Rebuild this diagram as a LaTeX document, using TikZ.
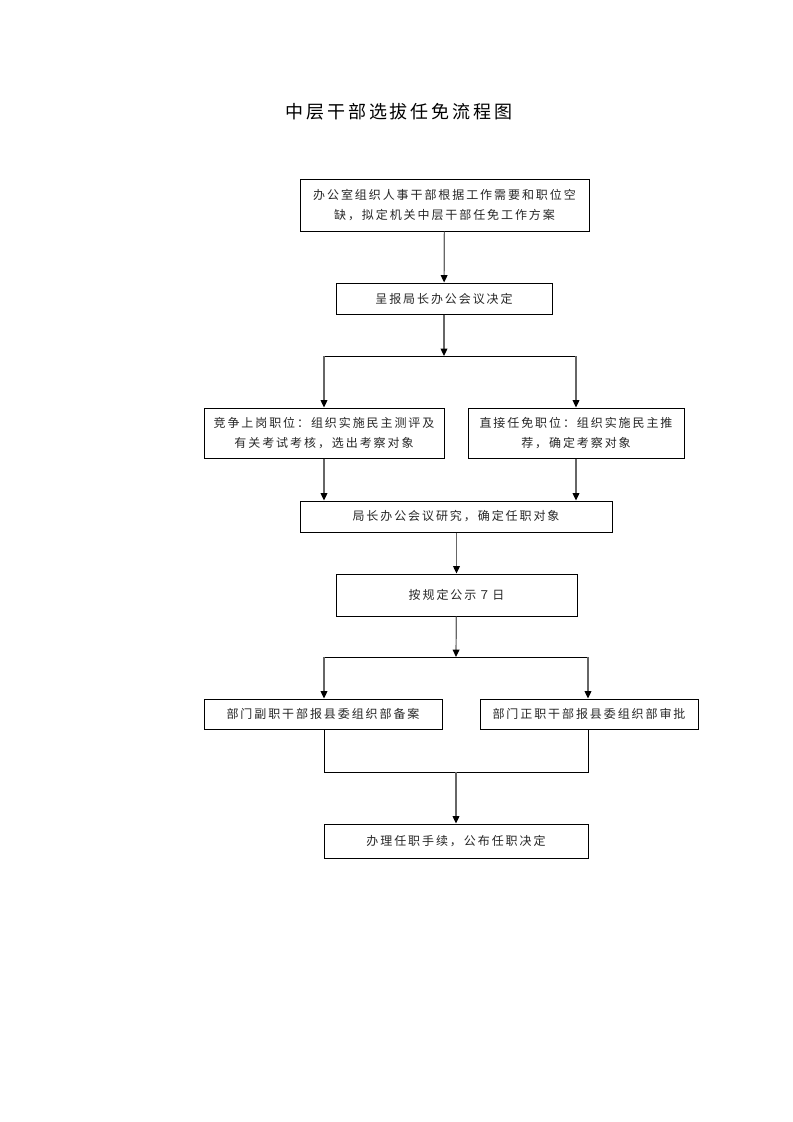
\documentclass[tikz,border=0pt]{standalone}
\usepackage{fontspec}
\newfontfamily\cjk[LetterSpace=16]{Noto Sans CJK SC}
\newfontfamily\cjktitle[LetterSpace=16]{Noto Sans CJK SC}
\usetikzlibrary{arrows.meta}

\begin{document}
\begin{tikzpicture}[x=0.75pt,y=-0.75pt,>={Triangle[length=5.5pt,width=5pt,color=black]},
                box/.style={rectangle,draw,line width=0.75pt,inner sep=0pt,align=center,
                  text=black!85,font=\cjk\fontsize{9}{15.5}\selectfont},
                flow/.style={->,line width=0.9pt,draw=black!60},
                link/.style={line width=0.75pt}]
                \useasboundingbox (0,0) rectangle (793,1122);
                \node[font=\cjktitle\fontsize{13.5}{16}\selectfont] (title) at (399,112) {中层干部选拔任免流程图};

                \node[box,minimum width=216.75pt,minimum height=39pt] (plan) at (444.5,205)
                  {办公室组织人事干部根据工作需要和职位空\\缺，拟定机关中层干部任免工作方案};
                \node[box,minimum width=162pt,minimum height=23.25pt] (report) at (444,298.5) {呈报局长办公会议决定};
                \node[box,minimum width=180pt,minimum height=37.5pt] (compete) at (324,433)
                  {竞争上岗职位：组织实施民主测评及\\有关考试考核，选出考察对象};
                \node[box,minimum width=162pt,minimum height=37.5pt] (direct) at (576,433)
                  {直接任免职位：组织实施民主推\\荐，确定考察对象};
                \node[box,minimum width=234pt,minimum height=23.25pt] (decide) at (456,516.5) {局长办公会议研究，确定任职对象};
                \node[box,minimum width=180.75pt,minimum height=31.5pt] (publish) at (456.5,595) {按规定公示７日};
                \node[box,minimum width=178.5pt,minimum height=22.5pt] (vice) at (323,714) {部门副职干部报县委组织部备案};
                \node[box,minimum width=163.5pt,minimum height=22.5pt] (chief) at (589,714) {部门正职干部报县委组织部审批};
                \node[box,minimum width=198pt,minimum height=25.5pt] (finish) at (456,841) {办理任职手续，公布任职决定};

                \coordinate (split1) at (444,356);
                \coordinate (split2) at (456,657);
                \coordinate (merge) at (456,772);

                \draw[flow] (plan) -- (report);
                \draw[flow] (report) -- (split1);
                \draw[link] (split1 -| compete) -- (split1 -| direct);
                \draw[flow] (split1 -| compete) -- (compete);
                \draw[flow] (split1 -| direct) -- (direct);
                \draw[flow] (compete) -- (compete |- decide.north);
                \draw[flow] (direct) -- (direct |- decide.north);
                \draw[flow] (decide.south -| publish) -- (publish);
                \draw[flow] (publish) -- (split2);
                \draw[link] (split2 -| 324,0) -- (split2 -| 588,0);
                \draw[flow] (split2 -| 324,0) -- (vice.north -| 324,0);
                \draw[flow] (split2 -| 588,0) -- (chief.north -| 588,0);
                \draw[link] (vice.south -| 324,0) |- (merge) -| (chief.south -| 588,0);
                \draw[flow] (merge) -- (finish);
\end{tikzpicture}
\end{document}
